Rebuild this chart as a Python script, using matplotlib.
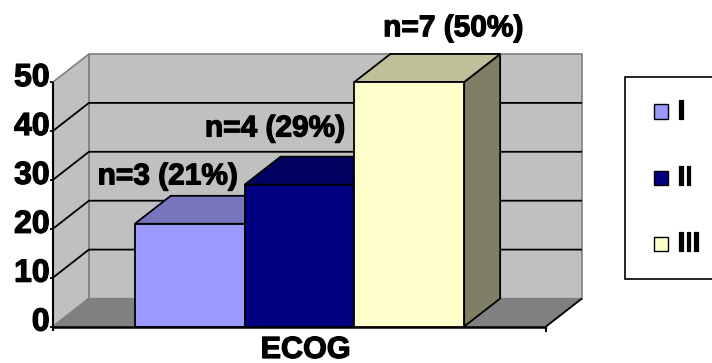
import matplotlib

matplotlib.use('Agg')
import matplotlib.pyplot as plt
import matplotlib.patheffects as pe
from matplotlib.patches import Polygon, Rectangle

categories = ['I', 'II', 'III']
percent = [21, 29, 50]
counts = [3, 4, 7]
y_ticks = [0, 10, 20, 30, 40, 50]
x_label = 'ECOG'

front = ['#9999FF', '#000080', '#FFFFCC']
top = ['#7676BE', '#000060', '#BFBF99']
side = ['#6B6BB3', '#00005A', '#7F7F66']

plt.rcParams['font.family'] = ['Liberation Sans', 'DejaVu Sans']
plt.rcParams['font.weight'] = 'bold'

W, H = 712, 363
fig = plt.figure(figsize=(W / 100, H / 100), dpi=100)
heavy = [pe.withStroke(linewidth=0.9, foreground='black')]

# front plane of the 3d box, the back wall is shifted by (dx, dy)
ax = fig.add_axes([53 / W, 1 - 326.5 / H, 493 / W, 244.5 / H])
gap = 0.745
ax.set_xlim(-0.5 - gap, 2.5 + gap)
ax.set_ylim(0, 50)
ax.axis('off')
dx = 36 / 110
dy = 28 / 4.89
x0, x1 = ax.get_xlim()
y1 = y_ticks[-1]


def poly(pts, fc, ec='black', lw=1.3, z=2):
    ax.add_patch(Polygon(pts, closed=True, facecolor=fc, edgecolor=ec, linewidth=lw,
                         zorder=z, clip_on=False, joinstyle='miter'))


def line(xs, ys, c='black', lw=1.3, z=2):
    ax.plot(xs, ys, color=c, linewidth=lw, zorder=z, clip_on=False, solid_capstyle='butt')


# walls and floor
poly([(x0 + dx, dy), (x1 + dx, dy), (x1 + dx, y1 + dy), (x0 + dx, y1 + dy)], '#C0C0C0', '#808080', 1.2, 1)
poly([(x0, 0), (x0 + dx, dy), (x0 + dx, y1 + dy), (x0, y1)], '#C0C0C0', '#808080', 1.2, 1)
poly([(x0, 0), (x1, 0), (x1 + dx, dy), (x0 + dx, dy)], '#808080', '#808080', 1.0, 1)
line([x1, x1 + dx], [0, dy], z=1.5)

# gridlines run across the back wall and down the side wall
for v in y_ticks[1:-1]:
    line([x0, x0 + dx, x1 + dx], [v, v + dy, v + dy], z=1.5)

# axes
line([x0, x0], [-1, y1], lw=1.5, z=5)
line([x0, x1], [0, 0], lw=1.8, z=5)
line([x1, x1], [0, -1.1], lw=1.5, z=5)
for v in y_ticks:
    line([x0 - 0.03, x0], [v, v], z=5)
    ax.text(x0 - 0.03, v + 0.8, str(v), ha='right', va='center', fontsize=23, zorder=6, path_effects=heavy)

# bars, drawn left to right so each one hides the side of the previous
for i, v in enumerate(percent):
    l, r = i - 0.5, i + 0.5
    poly([(r, 0), (r + dx, dy), (r + dx, v + dy), (r, v)], side[i], z=3 + i)
    poly([(l, v), (r, v), (r + dx, v + dy), (l + dx, v + dy)], top[i], z=3 + i)
    ax.bar(i, v, width=1, color=front[i], edgecolor='black', linewidth=1.3, zorder=3 + i, clip_on=False)

# value labels sit above the bars
label_x = [-0.2, 0.776, 2.4]
label_y = [30.7, 40.5, 61]
for i in range(3):
    ax.text(label_x[i], label_y[i], f'n={counts[i]} ({percent[i]}%)', ha='center', va='center',
            fontsize=21.5, zorder=8, clip_on=False, path_effects=heavy)

ax.text(1.055, -4.8, x_label, ha='center', va='center', fontsize=22, zorder=8, path_effects=heavy)

# legend box runs off the right side of the canvas
fig.add_artist(Rectangle((625 / W, 1 - 278.5 / H), 100 / W, 201.5 / H, transform=fig.transFigure,
                         facecolor='white', edgecolor='black', linewidth=1.2))
for i, c in enumerate(categories):
    yc = 111.5 + i * 66
    fig.add_artist(Rectangle((654 / W, 1 - (yc + 7) / H), 14 / W, 14 / H, transform=fig.transFigure,
                             facecolor=front[i], edgecolor='black', linewidth=1.0))
    fig.text(677.5 / W, 1 - yc / H, c, ha='left', va='center', fontsize=19, path_effects=heavy)

fig.savefig('out.png', dpi=100)
